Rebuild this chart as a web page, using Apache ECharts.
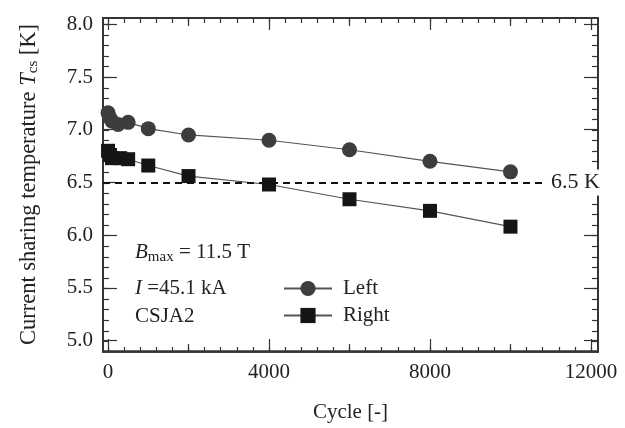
<!DOCTYPE html>
<html>
<head>
<meta charset="utf-8">
<script src="https://cdn.jsdelivr.net/npm/echarts@6.0.0/dist/echarts.min.js"></script>
<style>
html, body { margin: 0; padding: 0; background: #fff; }
#chart { width: 625px; height: 428px; }
</style>
</head>
<body>
<div id="chart"></div>
<script>
// values
const leftCycles = [0, 50, 100, 250, 500, 1000, 2000, 4000, 6000, 8000, 10000]
const leftTcs = [7.16, 7.11, 7.08, 7.05, 7.07, 7.01, 6.95, 6.90, 6.81, 6.70, 6.60]
const rightCycles = [0, 50, 100, 300, 500, 1000, 2000, 4000, 6000, 8000, 10000]
const rightTcs = [6.80, 6.76, 6.73, 6.73, 6.72, 6.66, 6.56, 6.48, 6.34, 6.23, 6.08]
const limitTcs = 6.5
const limitEndCycle = 10860
const xTickLabels = [0, 4000, 8000, 12000]
const xMidTicks = [2000, 6000, 10000]
const yTickLabels = [5.0, 5.5, 6.0, 6.5, 7.0, 7.5, 8.0]

const xMin = -125
const xMax = 12175
const yMin = 4.9
const yMax = 8.06
const font = 'Liberation Serif'
const ink = '#333'

const xMinor = []
for (let v = 0; v <= 12000; v += 400) xMinor.push(v)
const yMinor = []
for (let i = 50; i <= 80; i++) yMinor.push(i / 10)

const pairs = (xs, ys) => xs.map((x, i) => [x, ys[i]])

function xAxis (grid, pos, ticks, len, withLabels) {
  return {
    type: 'value',
    gridIndex: grid,
    position: pos,
    min: xMin,
    max: xMax,
    axisLine: { show: true, onZero: false, lineStyle: { color: ink, width: 1.5 } },
    axisTick: { show: ticks.length > 0, inside: true, length: len, customValues: ticks, lineStyle: { color: ink, width: 1.2 } },
    axisLabel: withLabels
      ? { show: true, customValues: xTickLabels, margin: 11, color: '#222', fontFamily: font, fontSize: 21, formatter: v => String(v) }
      : { show: false },
    splitLine: { show: false },
    name: withLabels ? 'Cycle [-]' : '',
    nameLocation: 'middle',
    nameGap: 51,
    nameTextStyle: { color: '#222', fontFamily: font, fontSize: 21 }
  }
}

function yAxis (grid, pos, ticks, len, withLabels) {
  return {
    type: 'value',
    gridIndex: grid,
    position: pos,
    min: yMin,
    max: yMax,
    axisLine: { show: true, onZero: false, lineStyle: { color: ink, width: 1.5 } },
    axisTick: { show: ticks.length > 0, inside: true, length: len, customValues: ticks, lineStyle: { color: ink, width: 1.2 } },
    axisLabel: withLabels
      ? { show: true, customValues: yTickLabels, margin: 10, color: '#222', fontFamily: font, fontSize: 21, formatter: v => v.toFixed(1) }
      : { show: false },
    splitLine: { show: false },
    name: withLabels ? 'Current sharing temperature {i|T}{s|cs} [K]' : '',
    nameLocation: 'middle',
    nameGap: 62,
    nameRotate: 90,
    nameTextStyle: {
      color: '#222',
      fontFamily: font,
      fontSize: 22.5,
      rich: {
        i: { fontFamily: font, fontSize: 22.5, fontStyle: 'italic', color: '#222' },
        s: { fontFamily: font, fontSize: 15, color: '#222', padding: [8, 0, 0, 0] }
      }
    }
  }
}

const gridBox = { left: 103, right: 27, top: 18, bottom: 76 }

const option = {
  animation: false,
  backgroundColor: '#fff',
  grid: [gridBox, gridBox, gridBox].map(g => Object.assign({}, g)),
  xAxis: [
    xAxis(0, 'bottom', xTickLabels, 12, true),
    xAxis(0, 'top', xTickLabels, 12, false),
    xAxis(1, 'bottom', xMinor, 5, false),
    xAxis(1, 'top', xMinor, 5, false),
    xAxis(2, 'bottom', xMidTicks, 8, false),
    xAxis(2, 'top', xMidTicks, 8, false)
  ],
  yAxis: [
    yAxis(0, 'left', yTickLabels, 14, true),
    yAxis(0, 'right', yTickLabels, 14, false),
    yAxis(1, 'left', yMinor, 6, false),
    yAxis(1, 'right', yMinor, 6, false),
    yAxis(2, 'left', [], 0, false),
    yAxis(2, 'right', [], 0, false)
  ],
  legend: {
    orient: 'vertical',
    left: 278,
    top: 273,
    itemWidth: 48,
    itemHeight: 19,
    itemGap: 6,
    textStyle: { color: '#222', fontFamily: font, fontSize: 21, padding: [0, 0, 0, 6] },
    data: ['Left', 'Right']
  },
  graphic: [
    {
      type: 'text',
      left: 135,
      top: 242,
      style: {
        text: '{i|B}{s|max}{n| = 11.5 T}',
        rich: {
          i: { fontFamily: font, fontSize: 21, fontStyle: 'italic', fill: '#222' },
          s: { fontFamily: font, fontSize: 15, fill: '#222', padding: [9, 0, 0, 0] },
          n: { fontFamily: font, fontSize: 21, fill: '#222' }
        }
      }
    },
    {
      type: 'text',
      left: 135,
      top: 278,
      style: {
        text: '{i|I }{n|=45.1 kA}',
        rich: {
          i: { fontFamily: font, fontSize: 21, fontStyle: 'italic', fill: '#222' },
          n: { fontFamily: font, fontSize: 21, fill: '#222' }
        }
      }
    },
    {
      type: 'text',
      left: 135,
      top: 306,
      style: { text: 'CSJA2', fontFamily: font, fontSize: 21, fill: '#222' }
    }
  ],
  series: [
    {
      name: 'Left',
      type: 'line',
      xAxisIndex: 0,
      yAxisIndex: 0,
      data: pairs(leftCycles, leftTcs),
      symbol: 'circle',
      symbolSize: 15,
      itemStyle: { color: '#3d3d3d' },
      lineStyle: { color: '#555', width: 1.2 },
      z: 4
    },
    {
      name: 'Right',
      type: 'line',
      xAxisIndex: 0,
      yAxisIndex: 0,
      data: pairs(rightCycles, rightTcs),
      symbol: 'rect',
      symbolSize: 14,
      itemStyle: { color: '#151515' },
      lineStyle: { color: '#555', width: 1.2 },
      z: 4,
      markLine: {
        silent: true,
        symbol: 'none',
        lineStyle: { color: '#111', width: 2, type: [7, 5] },
        label: {
          show: true,
          position: 'end',
          distance: 4,
          formatter: limitTcs.toFixed(1) + ' K',
          color: '#222',
          fontFamily: font,
          fontSize: 22,
          backgroundColor: '#fff',
          padding: [2, 2, 2, 2]
        },
        data: [[{ coord: [xMin, limitTcs] }, { coord: [limitEndCycle, limitTcs] }]]
      }
    }
  ]
}

const chart = echarts.init(document.getElementById('chart'))
chart.setOption(option)
</script>
</body>
</html>
